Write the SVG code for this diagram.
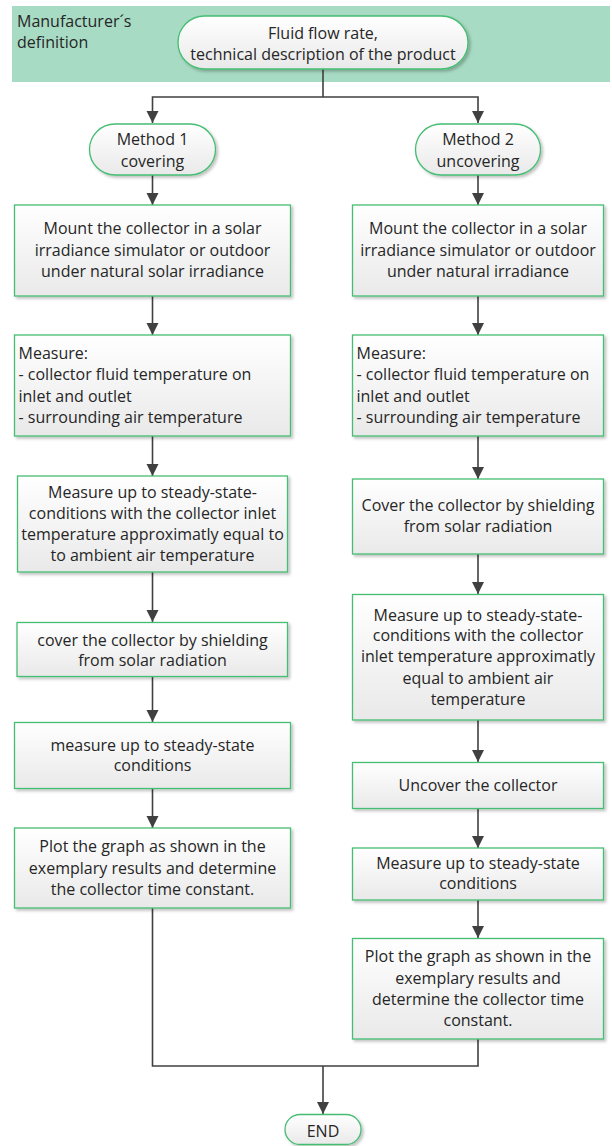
<svg xmlns="http://www.w3.org/2000/svg" width="612" height="1146" viewBox="0 0 612 1146">
<defs>
<linearGradient id="gf" x1="0" y1="0" x2="0" y2="1">
<stop offset="0" stop-color="#ffffff"/>
<stop offset="1" stop-color="#e9e9e9"/>
</linearGradient>
<filter id="sh" x="-10%" y="-10%" width="130%" height="140%">
<feDropShadow dx="2" dy="2" stdDeviation="1.5" flood-color="#000" flood-opacity="0.25"/>
</filter>
<marker id="ah" markerUnits="userSpaceOnUse" markerWidth="12" markerHeight="14" refX="12" refY="6" orient="auto">
<path d="M0,0 L12,6 L0,12 Z" fill="#404040"/>
</marker>
</defs>
<style>
.box{fill:url(#gf);stroke:#45bd72;stroke-width:1.3;filter:url(#sh)}
.t{font-family:"Open Sans","DejaVu Sans",sans-serif;font-size:16px;fill:#262626;text-anchor:middle}
.l{font-family:"Open Sans","DejaVu Sans",sans-serif;font-size:16px;fill:#262626;text-anchor:start}
.c{fill:none;stroke:#404040;stroke-width:1.6}
.ca{fill:none;stroke:#404040;stroke-width:1.6;marker-end:url(#ah)}
</style>
<rect x="12" y="6" width="598" height="76" fill="#a8dbc4"/>
<g id="band-label">
<text class="l" x="17" y="27">Manufacturer´s</text>
<text class="l" x="17" y="48">definition</text>
</g>
<g id="connectors">
<path class="c" d="M323,69 V97"/>
<path class="ca" d="M323,97 H152.5 V123"/>
<path class="ca" d="M323,97 H478 V123"/>
<path class="ca" d="M152.5,175 V205"/>
<path class="ca" d="M152.5,296 V335"/>
<path class="ca" d="M152.5,436 V476"/>
<path class="ca" d="M152.5,572 V622"/>
<path class="ca" d="M152.5,677 V722"/>
<path class="ca" d="M152.5,788 V828"/>
<path class="ca" d="M478,175 V205"/>
<path class="ca" d="M478,296 V335"/>
<path class="ca" d="M478,436 V479"/>
<path class="ca" d="M478,554 V594"/>
<path class="ca" d="M478,720 V762"/>
<path class="ca" d="M478,808 V848"/>
<path class="ca" d="M478,900 V938"/>
<path class="c" d="M152.5,908 V1066 H478 V1039"/>
<path class="ca" d="M323,1066 V1114"/>
</g>
<g id="start">
<rect class="box" x="178" y="16" width="290" height="53" rx="26.5"/>
<text class="t" x="323" y="39">Fluid flow rate,</text>
<text class="t" x="323" y="60">technical description of the product</text>
</g>
<g id="method1">
<rect class="box" x="89.5" y="124" width="126" height="51" rx="25.5"/>
<text class="t" x="152.5" y="144.5">Method 1</text>
<text class="t" x="152.5" y="166.5">covering</text>
</g>
<g id="method2">
<rect class="box" x="415.5" y="124" width="125" height="51" rx="25.5"/>
<text class="t" x="478" y="144.5">Method 2</text>
<text class="t" x="478" y="166.5">uncovering</text>
</g>
<g id="l1">
<rect class="box" x="14.5" y="205" width="276" height="91"/>
<text class="t" x="152.5" y="233.5">Mount the collector in a solar</text>
<text class="t" x="152.5" y="255.5">irradiance simulator or outdoor</text>
<text class="t" x="152.5" y="277">under natural solar irradiance</text>
</g>
<g id="l2">
<rect class="box" x="14.5" y="335" width="276" height="101"/>
<text class="l" x="18.5" y="358.5">Measure:</text>
<text class="l" x="18.5" y="380">- collector fluid temperature on</text>
<text class="l" x="18.5" y="401.5">inlet and outlet</text>
<text class="l" x="18.5" y="422.5">- surrounding air temperature</text>
</g>
<g id="l3">
<rect class="box" x="17.5" y="476" width="270" height="96"/>
<text class="t" x="152.5" y="497.5">Measure up to steady-state-</text>
<text class="t" x="152.5" y="518.5">conditions with the collector inlet</text>
<text class="t" x="152.5" y="540">temperature approximatly equal to</text>
<text class="t" x="152.5" y="561">to ambient air temperature</text>
</g>
<g id="l4">
<rect class="box" x="17" y="622.5" width="270.5" height="54"/>
<text class="t" x="152.5" y="645.5">cover the collector by shielding</text>
<text class="t" x="152.5" y="665.5">from solar radiation</text>
</g>
<g id="l5">
<rect class="box" x="14.5" y="722.5" width="276" height="66"/>
<text class="t" x="152.5" y="750.5">measure up to steady-state</text>
<text class="t" x="152.5" y="770.5">conditions</text>
</g>
<g id="l6">
<rect class="box" x="14.5" y="828" width="276" height="80"/>
<text class="t" x="152.5" y="852">Plot the graph as shown in the</text>
<text class="t" x="152.5" y="873.5">exemplary results and determine</text>
<text class="t" x="152.5" y="894.5">the collector time constant.</text>
</g>
<g id="r1">
<rect class="box" x="352.5" y="205" width="251" height="91"/>
<text class="t" x="478" y="233.5">Mount the collector in a solar</text>
<text class="t" x="478" y="255.5">irradiance simulator or outdoor</text>
<text class="t" x="478" y="277">under natural irradiance</text>
</g>
<g id="r2">
<rect class="box" x="352.5" y="335" width="251" height="101"/>
<text class="l" x="356.5" y="358.5">Measure:</text>
<text class="l" x="356.5" y="380">- collector fluid temperature on</text>
<text class="l" x="356.5" y="401.5">inlet and outlet</text>
<text class="l" x="356.5" y="422.5">- surrounding air temperature</text>
</g>
<g id="r3">
<rect class="box" x="352.5" y="479" width="251" height="75"/>
<text class="t" x="478" y="510.5">Cover the collector by shielding</text>
<text class="t" x="478" y="532">from solar radiation</text>
</g>
<g id="r4">
<rect class="box" x="352.5" y="594.5" width="251" height="125.5"/>
<text class="t" x="478" y="620.5">Measure up to steady-state-</text>
<text class="t" x="478" y="641">conditions with the collector</text>
<text class="t" x="478" y="662">inlet temperature approximatly</text>
<text class="t" x="478" y="683.5">equal to ambient air</text>
<text class="t" x="478" y="704.5">temperature</text>
</g>
<g id="r5">
<rect class="box" x="352.5" y="762.5" width="251" height="46"/>
<text class="t" x="478" y="790.5">Uncover the collector</text>
</g>
<g id="r6">
<rect class="box" x="352.5" y="848" width="251" height="52"/>
<text class="t" x="478" y="868.5">Measure up to steady-state</text>
<text class="t" x="478" y="889">conditions</text>
</g>
<g id="r7">
<rect class="box" x="352.5" y="938.5" width="251" height="100.5"/>
<text class="t" x="478" y="961.5">Plot the graph as shown in the</text>
<text class="t" x="478" y="983.5">exemplary results and</text>
<text class="t" x="478" y="1004.5">determine the collector time</text>
<text class="t" x="478" y="1025.5">constant.</text>
</g>
<g id="end">
<rect class="box" x="285" y="1114.5" width="76" height="30" rx="15"/>
<text class="t" x="323" y="1137">END</text>
</g>
</svg>
